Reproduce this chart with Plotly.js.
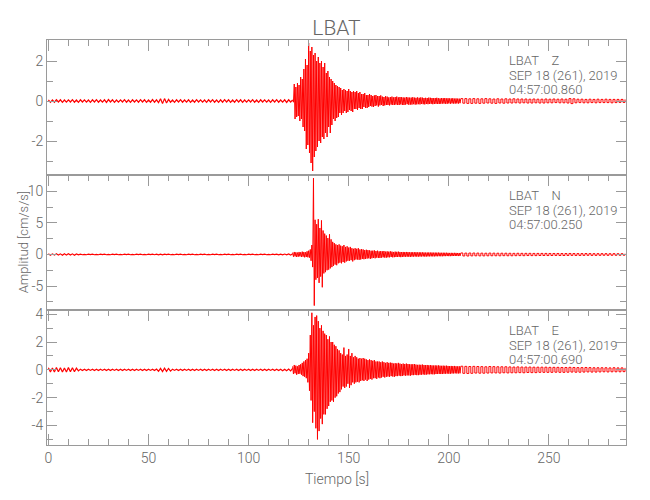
<!DOCTYPE html>
<html>
<head>
<meta charset="utf-8">
<script src="https://cdn.plot.ly/plotly-3.0.1.min.js"></script>
<style>html,body{margin:0;padding:0;background:#fff;}#chart{width:650px;height:500px;}</style>
</head>
<body>
<div id="chart"></div>
<script>
// ---- Data (acceleration, cm/s/s) ----
// Sampling of each segment: quiet 0..122 s every 1 s, strong 122..206 s every 0.4 s, tail 206..288 s every 1 s
var quietStart = 0, quietStep = 1;
var strongStart = 122, strongStep = 0.4;
var tailStart = 206, tailStep = 1;

// Z component
var zQuiet = [0.06,-0.07,0.05,-0.06,0.07,-0.05,0.06,-0.07,0.05,-0.06,
0.06,-0.05,0.07,-0.06,0.05,-0.07,0.06,-0.05,0.06,-0.06,
0.05,-0.07,0.06,-0.05,0.07,-0.06,0.05,-0.06,0.06,-0.07,
0.07,-0.05,0.06,-0.07,0.05,-0.06,0.06,-0.05,0.07,-0.06,
0.05,-0.07,0.06,-0.05,0.06,-0.06,0.07,-0.05,0.06,-0.07,
0.05,-0.06,0.07,-0.06,0.06,-0.08,0.11,-0.13,0.12,-0.1,
0.08,-0.06,0.05,-0.07,0.06,-0.05,0.07,-0.06,0.05,-0.06,
0.06,-0.07,0.05,-0.06,0.07,-0.05,0.06,-0.06,0.05,-0.07,
0.06,-0.05,0.07,-0.06,0.05,-0.07,0.06,-0.06,0.07,-0.05,
0.06,-0.07,0.05,-0.06,0.07,-0.05,0.06,-0.07,0.05,-0.06,
0.06,-0.05,0.07,-0.06,0.05,-0.07,0.06,-0.05,0.06,-0.06,
0.05,-0.07,0.06,-0.05,0.07,-0.06,0.05,-0.06,0.06,-0.07,
0.06,-0.05,0.06];
var zStrong = [0.05,-0.06,0.85,-0.9,0.7,-0.8,0.9,-0.75,0.8,-1.0,
1.2,-0.9,1.1,-1.3,1.6,-1.5,2.1,-2.4,1.8,-2.2,
2.9,-2.6,2.5,-3.1,2.7,-3.5,2.3,-2.8,2.4,-2.5,
2.0,-2.3,2.2,-2.0,1.9,-2.1,2.0,-1.8,1.7,-1.9,
1.9,-1.6,1.4,-1.8,1.5,-1.3,1.2,-1.6,1.1,-1.2,
1.0,-0.9,0.9,-1.0,0.8,-0.85,0.75,-0.8,0.7,-0.6,
0.65,-0.7,0.55,-0.6,0.6,-0.5,0.55,-0.6,0.5,-0.55,
0.6,-0.45,0.5,-0.5,0.45,-0.55,0.5,-0.4,0.45,-0.4,
0.5,-0.45,0.4,-0.35,0.45,-0.4,0.35,-0.4,0.35,-0.3,
0.4,-0.35,0.3,-0.35,0.3,-0.3,0.35,-0.25,0.3,-0.28,
0.25,-0.3,0.28,-0.25,0.3,-0.22,0.25,-0.28,0.25,-0.22,
0.28,-0.2,0.22,-0.25,0.2,-0.22,0.24,-0.2,0.22,-0.2,
0.18,-0.22,0.2,-0.18,0.22,-0.2,0.18,-0.2,0.2,-0.18,
0.22,-0.2,0.18,-0.2,0.2,-0.17,0.19,-0.2,0.18,-0.2,
0.17,-0.18,0.2,-0.16,0.18,-0.19,0.17,-0.18,0.17,-0.18,
0.19,-0.16,0.17,-0.18,0.16,-0.17,0.18,-0.16,0.16,-0.17,
0.18,-0.15,0.17,-0.16,0.15,-0.17,0.16,-0.15,0.15,-0.16,
0.17,-0.15,0.16,-0.14,0.15,-0.16,0.14,-0.15,0.15,-0.14,
0.16,-0.15,0.14,-0.15,0.13,-0.14,0.15,-0.13,0.14,-0.13,
0.15,-0.14,0.13,-0.14,0.14,-0.12,0.13,-0.14,0.13,-0.12,
0.14,-0.13,0.12,-0.13,0.13,-0.12,0.12,-0.13,0.12,-0.11,
0.12];
var zTail = [0.12,-0.11,0.12,-0.12,0.11,-0.12,0.12,-0.11,0.11,-0.12,
0.11,-0.11,0.12,-0.1,0.11,-0.11,0.1,-0.12,0.11,-0.1,
0.1,-0.11,0.11,-0.1,0.1,-0.1,0.11,-0.09,0.1,-0.1,
0.1,-0.09,0.1,-0.1,0.09,-0.1,0.1,-0.09,0.09,-0.1,
0.09,-0.1,0.1,-0.09,0.09,-0.09,0.1,-0.08,0.09,-0.09,
0.1,-0.09,0.09,-0.1,0.12,-0.13,0.11,-0.09,0.09,-0.08,
0.09,-0.09,0.08,-0.09,0.09,-0.08,0.08,-0.09,0.09,-0.08,
0.08,-0.08,0.09,-0.08,0.08,-0.09,0.08,-0.08,0.08,-0.07,
0.08,-0.07,0.08];

// N component
var nQuiet = [0.1,-0.12,0.1,-0.1,0.12,-0.1,0.1,-0.11,0.12,-0.1,
0.11,-0.1,0.1,-0.12,0.08,-0.05,0.04,-0.04,0.03,-0.04,
0.04,-0.03,0.04,-0.04,0.03,-0.04,0.04,-0.03,0.04,-0.04,
0.03,-0.04,0.04,-0.03,0.04,-0.04,0.03,-0.04,0.04,-0.03,
0.04,-0.04,0.03,-0.04,0.04,-0.03,0.04,-0.04,0.03,-0.04,
0.04,-0.03,0.04,-0.04,0.05,-0.06,0.06,-0.05,0.04,-0.03,
0.04,-0.04,0.03,-0.04,0.04,-0.03,0.04,-0.04,0.03,-0.04,
0.04,-0.03,0.04,-0.04,0.03,-0.04,0.04,-0.03,0.04,-0.04,
0.03,-0.04,0.04,-0.03,0.04,-0.04,0.03,-0.04,0.04,-0.03,
0.04,-0.04,0.03,-0.04,0.04,-0.03,0.04,-0.04,0.03,-0.04,
0.04,-0.03,0.04,-0.04,0.03,-0.04,0.04,-0.03,0.04,-0.04,
0.03,-0.04,0.04,-0.03,0.04,-0.05,0.05,-0.06,0.07,-0.06,
0.08,-0.1,0.12];
var nStrong = [0.3,-0.35,0.4,-0.3,0.35,-0.4,0.3,-0.35,0.4,-0.3,
0.35,-0.4,0.45,-0.35,0.4,-0.45,0.35,-0.4,0.5,-0.45,
0.6,-0.5,0.8,-1.0,1.5,-2.0,12.1,-8.1,5.5,-4.0,
4.8,-3.7,5.6,-4.5,4.2,-3.5,5.4,-5.2,3.8,-3.0,
3.3,-2.8,3.0,-2.5,2.6,-2.4,3.2,-2.2,2.4,-2.0,
2.0,-1.8,1.8,-1.6,1.6,-1.7,1.5,-1.4,1.6,-1.3,
1.4,-1.4,1.3,-1.2,1.5,-1.3,1.2,-1.1,1.3,-1.0,
1.1,-1.0,1.2,-0.9,1.0,-1.1,0.9,-0.9,1.0,-0.8,
0.9,-0.8,1.0,-0.85,0.8,-0.8,0.85,-0.7,0.8,-0.75,
0.7,-0.7,0.75,-0.65,0.7,-0.6,0.65,-0.7,0.6,-0.6,
0.6,-0.55,0.65,-0.6,0.55,-0.5,0.6,-0.55,0.5,-0.55,
0.55,-0.5,0.5,-0.45,0.55,-0.5,0.45,-0.5,0.5,-0.45,
0.45,-0.45,0.5,-0.4,0.45,-0.45,0.4,-0.42,0.45,-0.4,
0.42,-0.4,0.45,-0.38,0.4,-0.42,0.38,-0.4,0.4,-0.36,
0.38,-0.36,0.4,-0.35,0.38,-0.36,0.35,-0.38,0.36,-0.34,
0.36,-0.34,0.35,-0.32,0.36,-0.34,0.33,-0.34,0.35,-0.32,
0.33,-0.32,0.34,-0.3,0.32,-0.33,0.3,-0.32,0.31,-0.3,
0.32,-0.3,0.3,-0.29,0.31,-0.3,0.29,-0.3,0.3,-0.28,
0.29,-0.28,0.3,-0.27,0.28,-0.28,0.27,-0.28,0.28,-0.26,
0.27,-0.26,0.28,-0.25,0.26,-0.26,0.25,-0.26,0.26,-0.25,
0.25,-0.24,0.26,-0.24,0.25,-0.23,0.24,-0.25,0.24,-0.23,
0.24];
var nTail = [0.24,-0.23,0.22,-0.24,0.23,-0.22,0.23,-0.21,0.22,-0.22,
0.21,-0.22,0.2,-0.21,0.22,-0.2,0.21,-0.2,0.2,-0.21,
0.2,-0.19,0.2,-0.2,0.19,-0.2,0.18,-0.19,0.19,-0.18,
0.18,-0.19,0.18,-0.17,0.18,-0.18,0.17,-0.18,0.17,-0.16,
0.17,-0.16,0.17,-0.17,0.16,-0.16,0.16,-0.15,0.16,-0.16,
0.15,-0.16,0.15,-0.15,0.16,-0.14,0.15,-0.15,0.14,-0.15,
0.14,-0.14,0.15,-0.13,0.14,-0.14,0.13,-0.14,0.13,-0.13,
0.13,-0.12,0.13,-0.13,0.12,-0.12,0.13,-0.12,0.12,-0.12,
0.12,-0.11,0.12];

// E component
var eQuiet = [0.15,-0.16,0.14,-0.15,0.16,-0.14,0.15,-0.16,0.14,-0.15,
0.16,-0.14,0.15,-0.13,0.12,-0.08,0.05,-0.05,0.04,-0.05,
0.05,-0.04,0.05,-0.05,0.04,-0.05,0.05,-0.04,0.05,-0.05,
0.04,-0.05,0.05,-0.04,0.05,-0.05,0.04,-0.05,0.05,-0.04,
0.05,-0.05,0.04,-0.05,0.05,-0.04,0.05,-0.05,0.04,-0.05,
0.05,-0.04,0.05,-0.05,0.06,-0.1,0.11,-0.12,0.12,-0.11,
0.1,-0.09,0.05,-0.04,0.05,-0.05,0.04,-0.05,0.05,-0.04,
0.05,-0.05,0.04,-0.05,0.05,-0.04,0.05,-0.05,0.04,-0.05,
0.05,-0.04,0.05,-0.05,0.04,-0.05,0.05,-0.04,0.05,-0.05,
0.04,-0.05,0.05,-0.04,0.05,-0.05,0.04,-0.05,0.05,-0.04,
0.05,-0.05,0.04,-0.05,0.05,-0.04,0.05,-0.05,0.04,-0.05,
0.05,-0.04,0.05,-0.05,0.04,-0.05,0.05,-0.06,0.05,-0.06,
0.06,-0.08,0.1];
var eStrong = [0.25,-0.3,0.35,-0.25,0.3,-0.35,0.25,-0.3,0.35,-0.28,
0.4,-0.35,0.5,-0.45,0.6,-0.5,0.7,-0.6,0.8,-0.9,
1.2,-1.5,2.5,-2.2,4.1,-3.8,3.2,-3.0,3.8,-4.2,
3.9,-5.0,3.5,-4.4,3.0,-3.5,3.2,-3.9,2.8,-3.2,
2.6,-3.2,2.5,-2.8,2.2,-2.6,2.4,-2.3,2.0,-2.2,
2.0,-2.3,1.8,-2.0,1.7,-1.9,1.5,-1.7,1.4,-1.6,
1.2,-1.4,1.1,-1.2,1.6,-1.3,1.0,-1.2,1.1,-1.0,
1.5,-1.3,1.0,-1.1,1.2,-0.9,0.9,-1.0,1.0,-0.9,
0.9,-0.85,0.8,-0.9,0.85,-0.8,0.8,-0.75,0.85,-0.8,
0.8,-0.7,0.75,-0.8,0.7,-0.7,0.75,-0.65,0.7,-0.7,
0.65,-0.6,0.7,-0.6,0.6,-0.65,0.6,-0.55,0.6,-0.6,
0.55,-0.55,0.6,-0.5,0.55,-0.55,0.5,-0.5,0.55,-0.48,
0.5,-0.5,0.52,-0.45,0.5,-0.48,0.45,-0.5,0.48,-0.45,
0.46,-0.45,0.5,-0.42,0.45,-0.45,0.42,-0.44,0.45,-0.4,
0.42,-0.42,0.45,-0.4,0.42,-0.4,0.4,-0.42,0.4,-0.38,
0.4,-0.38,0.42,-0.36,0.38,-0.38,0.36,-0.38,0.37,-0.35,
0.36,-0.35,0.38,-0.33,0.35,-0.35,0.34,-0.34,0.35,-0.32,
0.33,-0.32,0.34,-0.31,0.32,-0.32,0.31,-0.32,0.32,-0.3,
0.31,-0.3,0.32,-0.29,0.3,-0.3,0.29,-0.3,0.3,-0.28,
0.29,-0.28,0.3,-0.27,0.28,-0.28,0.27,-0.28,0.28,-0.26,
0.27,-0.26,0.28,-0.25,0.26,-0.26,0.25,-0.26,0.26,-0.25,
0.26];
var eTail = [0.26,-0.25,0.25,-0.26,0.24,-0.25,0.25,-0.23,0.24,-0.24,
0.23,-0.24,0.22,-0.23,0.24,-0.22,0.23,-0.22,0.22,-0.23,
0.22,-0.21,0.22,-0.22,0.21,-0.21,0.2,-0.21,0.21,-0.2,
0.2,-0.21,0.2,-0.19,0.2,-0.2,0.19,-0.2,0.19,-0.18,
0.19,-0.18,0.19,-0.18,0.18,-0.18,0.18,-0.17,0.18,-0.18,
0.17,-0.18,0.17,-0.17,0.18,-0.16,0.17,-0.17,0.16,-0.17,
0.16,-0.16,0.17,-0.15,0.16,-0.16,0.15,-0.16,0.15,-0.15,
0.15,-0.14,0.15,-0.15,0.14,-0.14,0.15,-0.14,0.14,-0.14,
0.14,-0.13,0.14];

// Labels
var stationName = 'LBAT';
var components = ['Z', 'N', 'E'];
var dateLabel = 'SEP 18 (261), 2019';
var startTimes = ['04:57:00.860', '04:57:00.250', '04:57:00.690'];
var xTitle = 'Tiempo [s]';
var yTitle = 'Amplitud [cm/s/s]';
var zTickVals = [-2, 0, 2], zTickText = ['-2', '0', '2'];
var nTickVals = [-5, 0, 5, 10], nTickText = ['-5', '0', '5', '10'];
var eTickVals = [-4, -2, 0, 2, 4], eTickText = ['-4', '-2', '0', '2', '4'];

// ---- Build ----
var FONT = 'Roboto, Liberation Sans Narrow, DejaVu Sans Condensed, sans-serif';
var TXT = '#666';
var AX = '#9a9a9a';
var RED = '#ff0000';

function seg(y, x0, dx, xa, ya, shape, w) {
  return {type: 'scatter', mode: 'lines', y: y, x0: x0, dx: dx, xaxis: xa, yaxis: ya,
    line: {color: RED, width: w, shape: shape}, hoverinfo: 'skip', showlegend: false};
}
var panels = [
  {q: eQuiet, s: eStrong, t: eTail, xa: 'x', ya: 'y'},
  {q: nQuiet, s: nStrong, t: nTail, xa: 'x2', ya: 'y2'},
  {q: zQuiet, s: zStrong, t: zTail, xa: 'x3', ya: 'y3'}
];
var data = [];
panels.forEach(function (p) {
  data.push(seg(p.q, quietStart, quietStep, p.xa, p.ya, 'linear', 1.2));
  data.push(seg(p.s, strongStart, strongStep, p.xa, p.ya, 'linear', 1));
  data.push(seg(p.t, tailStart, tailStep, p.xa, p.ya, 'hv', 1));
});

var xr = [-0.7, 288.5];
function xaxis(anchor, side, labels) {
  return {
    anchor: anchor, side: side, range: xr, domain: [0, 1],
    showline: true, linecolor: AX, linewidth: 1, mirror: labels ? 'ticks' : true,
    ticks: 'inside', ticklen: 11, tickcolor: AX, tickwidth: 1,
    tick0: 0, dtick: 50, showticklabels: labels, showgrid: false, zeroline: false,
    tickfont: {family: FONT, size: 14, color: TXT, weight: 300},
    minor: {ticks: 'inside', dtick: 10, tick0: 0, ticklen: 6, tickcolor: AX, showgrid: false}
  };
}
function yaxis(anchor, domain, range, tv, tt, minorDt) {
  return {
    anchor: anchor, domain: domain, range: range,
    showline: true, linecolor: AX, linewidth: 1, mirror: 'ticks',
    ticks: 'inside', ticklen: 10, tickcolor: AX, tickwidth: 1,
    tickmode: 'array', tickvals: tv, ticktext: tt,
    showgrid: false, zeroline: false,
    tickfont: {family: FONT, size: 14, color: TXT, weight: 300},
    minor: {ticks: 'inside', dtick: minorDt, tick0: 0, ticklen: 6, tickcolor: AX, showgrid: false}
  };
}

var annotations = [];
var domainRefs = ['y3 domain', 'y2 domain', 'y domain'];
for (var i = 0; i < 3; i++) {
  var lines = [stationName + '\u00a0\u00a0\u00a0\u00a0' + components[i], dateLabel, startTimes[i]];
  var ys = [0.845, 0.737, 0.63];
  for (var j = 0; j < 3; j++) {
    annotations.push({xref: 'paper', yref: domainRefs[i], x: 0.794, y: ys[j],
      xanchor: 'left', yanchor: 'middle', showarrow: false, text: lines[j],
      font: {family: FONT, size: 13, color: TXT, weight: 300}});
  }
}
annotations.push({xref: 'paper', yref: 'paper', x: -0.04, y: 0.5, textangle: -90,
  xanchor: 'center', yanchor: 'middle', showarrow: false, text: yTitle,
  font: {family: FONT, size: 13, color: TXT, weight: 300}});
annotations.push({xref: 'paper', yref: 'paper', x: 0.5, y: -0.085,
  xanchor: 'center', yanchor: 'middle', showarrow: false, text: xTitle,
  font: {family: FONT, size: 14, color: TXT, weight: 300}});

var layout = {
  width: 650, height: 500,
  margin: {l: 47, r: 24, t: 40, b: 55},
  paper_bgcolor: '#fff', plot_bgcolor: '#fff',
  title: {text: stationName, x: 0.5, xref: 'paper', y: 0.944, yref: 'container',
    xanchor: 'center', yanchor: 'middle', font: {family: FONT, size: 21, color: TXT, weight: 300}},
  xaxis: xaxis('y', 'bottom', true),
  xaxis2: xaxis('y2', 'top', false),
  xaxis3: xaxis('y3', 'top', false),
  yaxis: yaxis('x', [0, 1/3], [-5.4, 4.3], eTickVals, eTickText, 1),
  yaxis2: yaxis('x2', [1/3, 2/3], [-8.8, 12.6], nTickVals, nTickText, 2.5),
  yaxis3: yaxis('x3', [2/3, 1], [-3.7, 3.05], zTickVals, zTickText, 1),
  annotations: annotations
};
layout.xaxis2.matches = 'x';
layout.xaxis3.matches = 'x';

Plotly.newPlot('chart', data, layout, {displayModeBar: false, staticPlot: true});
</script>
</body>
</html>
